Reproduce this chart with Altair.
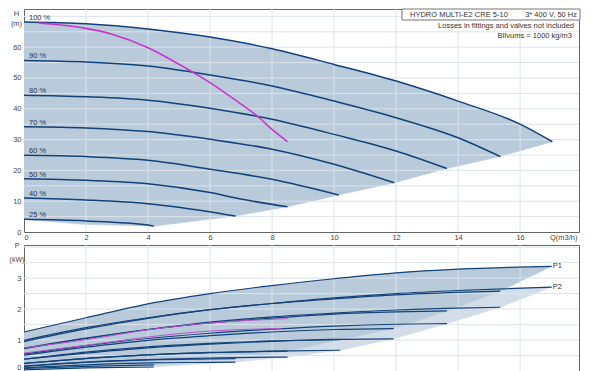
import altair as alt
import pandas as pd

# ---------------- data ----------------
SPEEDS = ["100 %", "90 %", "80 %", "70 %", "60 %", "50 %", "40 %", "25 %"]

# Head curves H(Q)  (Q in m3/h, H in m)
Q100 = [0, 2, 4, 6, 8, 10, 12, 14, 16, 17.04]
H100 = [68.2, 67.6, 65.9, 63.3, 59.5, 54.4, 49.0, 42.5, 35.0, 29.3]
Q90 = [0, 2, 4, 6, 8, 10, 12, 14, 15.36]
H90 = [55.7, 55.2, 53.9, 51.0, 47.4, 42.5, 37.1, 30.6, 24.5]
Q80 = [0, 2, 4, 6, 8, 10, 12, 13.64]
H80 = [44.4, 43.9, 42.8, 40.2, 36.6, 31.7, 26.3, 20.6]
Q70 = [0, 2, 4, 6, 8, 10, 11.94]
H70 = [34.2, 33.8, 32.6, 30.1, 26.9, 22.0, 16.0]
Q60 = [0, 2, 4, 6, 8, 10.15]
H60 = [24.9, 24.5, 23.3, 20.4, 17.1, 12.0]
Q50 = [0, 2, 4, 6, 7, 8.5]
H50 = [17.3, 16.8, 15.7, 12.8, 10.7, 8.2]
Q40 = [0, 2, 4, 5.1, 6.82]
H40 = [11.0, 10.4, 9.2, 7.9, 5.2]
Q25 = [0, 2, 4, 4.19]
H25 = [4.1, 3.6, 2.3, 1.9]

# lower corner of the operating area under the 25 % curve
WEDGE_Q = [1.88]
WEDGE_H = [2.5]

# duty (pink) curve
PINK_Q = [0.46, 1, 2, 2.84, 4, 4.78, 5.43, 6, 6.93, 7.52, 8, 8.5]
PINK_H = [67.9, 67.4, 66.1, 64.2, 59.8, 55.7, 52.0, 48.5, 42.0, 37.7, 33.3, 29.3]

# Power curves P1 / P2 (kW)
PQ100 = [0, 2, 4, 6, 8, 10, 12, 14, 17.02]
P1_100 = [1.26, 1.72, 2.17, 2.50, 2.76, 2.98, 3.17, 3.29, 3.38]
P2_100 = [0.99, 1.40, 1.72, 1.98, 2.18, 2.36, 2.50, 2.60, 2.71]
PQ90 = [0, 2, 4, 6, 8, 10, 12, 14, 15.36]
P1_90 = [0.95, 1.36, 1.70, 1.98, 2.18, 2.33, 2.46, 2.54, 2.58]
P2_90 = [0.74, 1.06, 1.34, 1.58, 1.75, 1.87, 1.97, 2.03, 2.06]
PQ80 = [0, 2, 4, 6, 8, 10, 12, 13.64]
P1_80 = [0.72, 1.05, 1.34, 1.55, 1.71, 1.84, 1.91, 1.94]
P2_80 = [0.55, 0.82, 1.05, 1.22, 1.35, 1.45, 1.51, 1.53]
PQ70 = [0, 2, 4, 6, 8, 10, 11.92]
P1_70 = [0.51, 0.77, 0.99, 1.14, 1.26, 1.34, 1.37]
P2_70 = [0.38, 0.58, 0.75, 0.87, 0.96, 1.02, 1.04]
PQ60 = [0, 2, 4, 6, 8, 10.2]
P1_60 = [0.38, 0.61, 0.78, 0.89, 0.97, 1.01]
P2_60 = [0.25, 0.40, 0.52, 0.59, 0.64, 0.67]
PQ50 = [0, 2, 4, 6, 8.5]
P1_50 = [0.24, 0.41, 0.52, 0.60, 0.64]
P2_50 = [0.16, 0.29, 0.37, 0.42, 0.45]
PQ40 = [0, 2, 4, 6, 6.82]
P1_40 = [0.15, 0.28, 0.36, 0.39, 0.40]
P2_40 = [0.10, 0.20, 0.26, 0.28, 0.29]
PQ25 = [0, 2, 4.19]
P1_25 = [0.08, 0.15, 0.20]
P2_25 = [0.04, 0.10, 0.13]

PINK_PQ1 = [0, 2, 4, 6, 8.5]
PINK_P1 = [0.75, 1.01, 1.33, 1.55, 1.69]
PINK_PQ2 = [0, 2, 4, 6, 8.3]
PINK_P2 = [0.58, 0.83, 1.10, 1.29, 1.37]

# axes / grid values
Q_TICKS = [0, 2, 4, 6, 8, 10, 12, 14, 16]
Q_GRID = [2, 4, 6, 8, 10, 12, 14, 16]
H_TICKS = [0, 10, 20, 30, 40, 50, 60]
H_GRID = [5, 10, 15, 20, 25, 30, 35, 40, 45, 50, 55, 60, 65, 70]
P_TICKS = [0, 1, 2, 3]
P_GRID = [0.5, 1.0, 1.5, 2.0, 2.5, 3.0, 3.5, 4.0]

HEADER_LEFT = "HYDRO MULTI-E2 CRE 5-10"
HEADER_RIGHT = "3* 400 V, 50 Hz"
NOTE_1 = "Losses in fittings and valves not included"
NOTE_2 = "Blīvums = 1000 kg/m3"

# ---------------- styling ----------------
FONT = "Liberation Sans"
FILL = "#b9cadb"
FILL_LIGHT = "#d2dde9"
GRID = "#dce3eb"
CURVE = "#12427a"
PINK = "#cc33cc"
PINK_B = "#bb55cc"
TXT = "#444444"

H_CURVES = [(SPEEDS[0], Q100, H100), (SPEEDS[1], Q90, H90), (SPEEDS[2], Q80, H80),
            (SPEEDS[3], Q70, H70), (SPEEDS[4], Q60, H60), (SPEEDS[5], Q50, H50),
            (SPEEDS[6], Q40, H40), (SPEEDS[7], Q25, H25)]
P_CURVES = [(SPEEDS[0], PQ100, P1_100, P2_100), (SPEEDS[1], PQ90, P1_90, P2_90),
            (SPEEDS[2], PQ80, P1_80, P2_80), (SPEEDS[3], PQ70, P1_70, P2_70),
            (SPEEDS[4], PQ60, P1_60, P2_60), (SPEEDS[5], PQ50, P1_50, P2_50),
            (SPEEDS[6], PQ40, P1_40, P2_40), (SPEEDS[7], PQ25, P1_25, P2_25)]

# ---------------- tables ----------------
top_rows = []
for name, qs, hs in H_CURVES:
    for i, (q, h) in enumerate(zip(qs, hs)):
        top_rows.append({"c": name, "i": i, "Q": q, "H": h})
top_df = pd.DataFrame(top_rows)

lab_df = pd.DataFrame([{"c": n, "Q": qs[0], "H": hs[0]} for n, qs, hs in H_CURVES])

poly = list(zip(Q100, H100))
poly += [(qs[-1], hs[-1]) for _, qs, hs in H_CURVES[1:]]
poly += list(zip(WEDGE_Q, WEDGE_H))
poly += [(Q25[0], H25[0])]
fill_top_df = pd.DataFrame([{"i": i, "Q": q, "H": h} for i, (q, h) in enumerate(poly)])

pink_df = pd.DataFrame({"i": range(len(PINK_Q)), "Q": PINK_Q, "H": PINK_H})

bot_rows = []
for name, qs, p1, p2 in P_CURVES:
    for i, (q, a, b) in enumerate(zip(qs, p1, p2)):
        bot_rows.append({"c": name + " P1", "i": i, "Q": q, "P": a})
        bot_rows.append({"c": name + " P2", "i": i, "Q": q, "P": b})
bot_df = pd.DataFrame(bot_rows)


def power_polygon(k):
    top = P_CURVES[0]
    pts = list(zip(top[1], top[k]))
    pts += [(c[1][-1], c[k][-1]) for c in P_CURVES[1:]]
    last = P_CURVES[-1]
    pts += list(zip(last[1][::-1][1:], last[k][::-1][1:]))
    return pd.DataFrame([{"i": i, "Q": q, "P": p} for i, (q, p) in enumerate(pts)])


fill_p1_df = power_polygon(2)
fill_p2_df = power_polygon(3)

pink_b_rows = [{"c": "P1", "i": i, "Q": q, "P": p} for i, (q, p) in enumerate(zip(PINK_PQ1, PINK_P1))]
pink_b_rows += [{"c": "P2", "i": i, "Q": q, "P": p} for i, (q, p) in enumerate(zip(PINK_PQ2, PINK_P2))]
pink_b_df = pd.DataFrame(pink_b_rows)

plab_df = pd.DataFrame([{"t": "P1", "Q": PQ100[-1], "P": P1_100[-1]},
                        {"t": "P2", "Q": PQ100[-1], "P": P2_100[-1]}])

# ---------------- encodings ----------------
QSCALE = alt.Scale(domain=[0, 17.9], nice=False, zero=False)
HSCALE = alt.Scale(domain=[0, 72.4], nice=False, zero=False)
PSCALE = alt.Scale(domain=[0, 4.07], nice=False, zero=False)

X_AX_TOP = alt.Axis(values=Q_TICKS, grid=False, ticks=False, domain=False,
                    labelFontSize=7.5, labelColor=TXT, labelPadding=1, labelFont=FONT,
                    title="Q(m3/h)", titleX=553, titleY=1, titleAlign="right",
                    titleBaseline="top", titleFontSize=7.5, titleFontWeight="normal",
                    titleColor=TXT, titleFont=FONT)
Y_AX_TOP = alt.Axis(values=H_TICKS, grid=False, ticks=False, domain=False,
                    labelFontSize=7.5, labelColor=TXT, labelPadding=3, labelFont=FONT,
                    title=["H", "(m)"], titleAngle=0, titleX=-8, titleY=0,
                    titleAlign="center", titleBaseline="top", titleLineHeight=10,
                    titleFontSize=7.5, titleFontWeight="normal", titleColor=TXT, titleFont=FONT)
Y_AX_BOT = alt.Axis(values=P_TICKS, grid=False, ticks=False, domain=False,
                    labelFontSize=7.5, labelColor=TXT, labelPadding=3, labelFont=FONT,
                    labelFlush=True,
                    title=["P", "(kW)"], titleAngle=0, titleX=-7.5, titleY=-4,
                    titleAlign="center", titleBaseline="top", titleLineHeight=14,
                    titleFontSize=7, titleFontWeight="normal", titleColor=TXT, titleFont=FONT)


def xt():
    return alt.X("Q:Q", scale=QSCALE, axis=X_AX_TOP)


def yt():
    return alt.Y("H:Q", scale=HSCALE, axis=Y_AX_TOP)


def xb():
    return alt.X("Q:Q", scale=QSCALE, axis=None)


def yb():
    return alt.Y("P:Q", scale=PSCALE, axis=Y_AX_BOT)


# ---------------- top panel ----------------
fill_top = alt.Chart(fill_top_df).mark_line(fill=FILL, stroke=FILL, strokeWidth=0.5).encode(
    x=xt(), y=yt(), order="i:Q")

hgrid = alt.Chart(pd.DataFrame({"H": H_GRID})).mark_rule(color=GRID, strokeWidth=1).encode(y=yt())
qgrid_t = alt.Chart(pd.DataFrame({"Q": Q_GRID})).mark_rule(color=GRID, strokeWidth=1).encode(x=xt())

curves_top = alt.Chart(top_df).mark_line(color=CURVE, strokeWidth=1.5, interpolate="monotone").encode(
    x=xt(), y=yt(), detail="c:N", order="i:Q")

pink_top = alt.Chart(pink_df).mark_line(color=PINK, strokeWidth=1.6, interpolate="monotone").encode(
    x=xt(), y=yt(), order="i:Q")

labels_top = alt.Chart(lab_df).mark_text(align="left", baseline="alphabetic", dx=5, dy=-2,
                                         fontSize=7.5, font=FONT, color="#333333").encode(
    x=xt(), y=yt(), text="c:N")

hdr_df = pd.DataFrame({"a": [HEADER_LEFT], "b": [HEADER_RIGHT], "n1": [NOTE_1], "n2": [NOTE_2]})
box = alt.Chart(hdr_df).mark_rect(fill="white", stroke="#777777", strokeWidth=1).encode(
    x=alt.value(378), x2=alt.value(556), y=alt.value(0), y2=alt.value(11))
hdr_l = alt.Chart(hdr_df).mark_text(align="left", baseline="middle", fontSize=7.5, font=FONT,
                                    color="#333333").encode(
    x=alt.value(386), y=alt.value(6), text="a:N")
hdr_r = alt.Chart(hdr_df).mark_text(align="right", baseline="middle", fontSize=7.5, font=FONT,
                                    color="#333333").encode(
    x=alt.value(553), y=alt.value(6), text="b:N")
note1 = alt.Chart(hdr_df).mark_text(align="right", baseline="middle", fontSize=7.5, font=FONT,
                                    color="#333333").encode(
    x=alt.value(550), y=alt.value(17), text="n1:N")
note2 = alt.Chart(hdr_df).mark_text(align="right", baseline="middle", fontSize=7.5, font=FONT,
                                    color="#333333").encode(
    x=alt.value(548), y=alt.value(27), text="n2:N")

top = alt.layer(fill_top, hgrid, qgrid_t, curves_top, pink_top, labels_top,
                box, hdr_l, hdr_r, note1, note2).properties(width=555, height=223)

# ---------------- bottom panel ----------------
fill_p2 = alt.Chart(fill_p2_df).mark_line(fill=FILL_LIGHT, stroke=FILL_LIGHT, strokeWidth=0.5).encode(
    x=xb(), y=yb(), order="i:Q")
fill_p1 = alt.Chart(fill_p1_df).mark_line(fill=FILL, stroke=FILL, strokeWidth=0.5).encode(
    x=xb(), y=yb(), order="i:Q")
pgrid = alt.Chart(pd.DataFrame({"P": P_GRID})).mark_rule(color=GRID, strokeWidth=1).encode(y=yb())
qgrid_b = alt.Chart(pd.DataFrame({"Q": Q_GRID})).mark_rule(color=GRID, strokeWidth=1).encode(x=xb())
curves_bot = alt.Chart(bot_df).mark_line(color=CURVE, strokeWidth=1.2, interpolate="monotone").encode(
    x=xb(), y=yb(), detail="c:N", order="i:Q")
pink_bot = alt.Chart(pink_b_df).mark_line(color=PINK_B, strokeWidth=1, interpolate="monotone").encode(
    x=xb(), y=yb(), detail="c:N", order="i:Q")
plabels = alt.Chart(plab_df).mark_text(align="left", baseline="middle", dx=1, fontSize=7.5,
                                       font=FONT, color="#333333").encode(
    x=xb(), y=yb(), text="t:N")

bottom = alt.layer(fill_p2, fill_p1, pgrid, qgrid_b, curves_bot, pink_bot, plabels).properties(
    width=555, height=126)

chart = alt.vconcat(top, bottom, spacing=13, bounds="flush").properties(
    padding=0, background="white").configure_view(stroke="#666666", strokeWidth=1)

chart.save("out.html", embed_options={"renderer": "svg", "actions": False})
